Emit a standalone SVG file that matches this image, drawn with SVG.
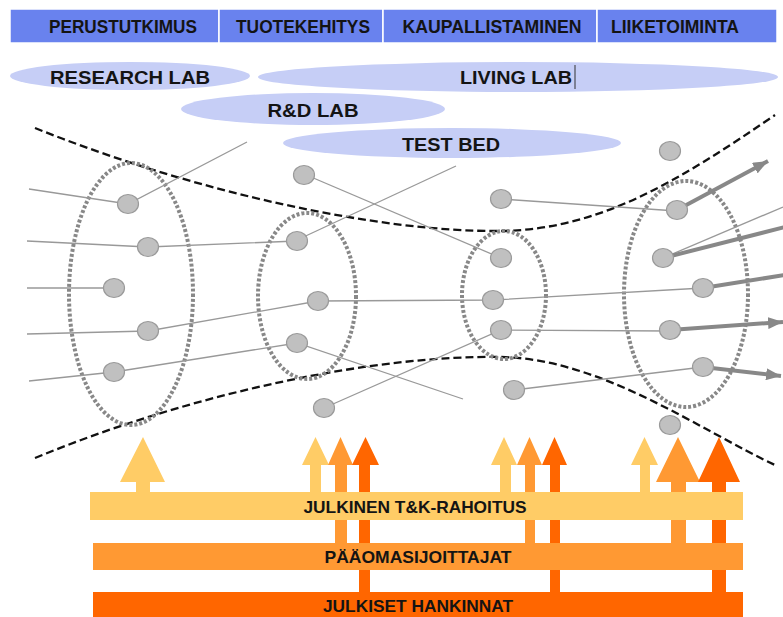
<svg xmlns="http://www.w3.org/2000/svg" width="783" height="617" viewBox="0 0 783 617">
<style>
.t{font-family:"Liberation Sans",Arial,sans-serif;font-weight:bold;fill:#141414;text-anchor:middle}
.hd{font-size:17.5px}
.lb{font-size:19px}
.bt{font-size:16.5px}
.cell{fill:#6982EE;stroke:#fff;stroke-width:1.5}
.lab{fill:#C6CEF6}
.dash{fill:none;stroke:#111;stroke-width:2.3;stroke-dasharray:8 4}
.dot{fill:none;stroke:#888;stroke-width:4;stroke-dasharray:3 2}
.thin{fill:none;stroke:#999;stroke-width:1.3}
.thick{fill:none;stroke:#888;stroke-width:4}
.node{fill:#C0C0C0;stroke:#9a9a9a;stroke-width:1.2}
.c1{fill:#FFCC66}
.c2{fill:#FF9933}
.c3{fill:#FF6600}
</style>
<defs>
<marker id="ah" markerUnits="userSpaceOnUse" markerWidth="16" markerHeight="12" refX="15" refY="6" orient="auto">
<path d="M0,0 L15,6 L0,12 Z" fill="#888"/>
</marker>
</defs>
<rect width="783" height="617" fill="#fff"/>

<g id="header">
<rect class="cell" x="10" y="9" width="209" height="34"/>
<rect class="cell" x="219" y="9" width="164" height="34"/>
<rect class="cell" x="383" y="9" width="214" height="34"/>
<rect class="cell" x="597" y="9" width="180" height="34"/>
<text class="t hd" x="123" y="33" textLength="148" lengthAdjust="spacingAndGlyphs">PERUSTUTKIMUS</text>
<text class="t hd" x="303" y="33" textLength="134" lengthAdjust="spacingAndGlyphs">TUOTEKEHITYS</text>
<text class="t hd" x="492" y="33" textLength="179" lengthAdjust="spacingAndGlyphs">KAUPALLISTAMINEN</text>
<text class="t hd" x="675" y="33" textLength="128" lengthAdjust="spacingAndGlyphs">LIIKETOIMINTA</text>
</g>

<g id="research-lab">
<ellipse class="lab" cx="130" cy="76" rx="120" ry="14"/>
<text class="t lb" x="130" y="84" textLength="160" lengthAdjust="spacingAndGlyphs">RESEARCH LAB</text>
</g>
<g id="living-lab">
<ellipse class="lab" cx="518" cy="77" rx="260" ry="15"/>
<text class="t lb" x="516" y="84" textLength="112" lengthAdjust="spacingAndGlyphs">LIVING LAB</text>
<line x1="575" y1="65" x2="575" y2="89" stroke="#333" stroke-width="1"/>
</g>
<g id="rd-lab">
<ellipse class="lab" cx="313" cy="109" rx="132" ry="16"/>
<text class="t lb" x="313" y="117" textLength="91" lengthAdjust="spacingAndGlyphs">R&amp;D LAB</text>
</g>
<g id="test-bed">
<ellipse class="lab" cx="452" cy="143" rx="169" ry="15"/>
<text class="t lb" x="451" y="151" textLength="98" lengthAdjust="spacingAndGlyphs">TEST BED</text>
</g>

<g id="funnel">
<path class="dash" d="M35,128 C200,194 380,232 500,231 C600,230 680,180 775,115"/>
<path class="dash" d="M35,458 C200,390 380,355 500,357 C600,358 700,430 775,465"/>
</g>

<g id="clusters">
<ellipse class="dot" cx="131" cy="294" rx="62" ry="131"/>
<ellipse class="dot" cx="307" cy="296" rx="49" ry="83"/>
<ellipse class="dot" cx="504" cy="295" rx="42" ry="64"/>
<ellipse class="dot" cx="686" cy="294" rx="62" ry="113"/>
</g>

<g id="connectors">
<polyline class="thin" points="29,189 128,204 247,142"/>
<polyline class="thin" points="27,241 148,247 297,241"/>
<polyline class="thin" points="27,288 114,288"/>
<polyline class="thin" points="27,334 148,331 318,301 493,300 703,288"/>
<polyline class="thin" points="29,381 114,372 297,343 463,399"/>
<polyline class="thin" points="304,174 501,258"/>
<polyline class="thin" points="297,240 456,166"/>
<polyline class="thin" points="324,408 501,330 669,331"/>
<polyline class="thin" points="501,199 677,211"/>
<polyline class="thin" points="514,390 703,367"/>
<polyline class="thin" points="663,258 783,207"/>
<line class="thick" x1="677" y1="210" x2="768" y2="161" marker-end="url(#ah)"/>
<line class="thick" x1="663" y1="258" x2="785" y2="227"/>
<line class="thick" x1="703" y1="288" x2="785" y2="275"/>
<line class="thick" x1="670" y1="330" x2="783" y2="322" marker-end="url(#ah)"/>
<line class="thick" x1="703" y1="367" x2="781" y2="376" marker-end="url(#ah)"/>
</g>

<g id="nodes">
<ellipse id="n1" class="node" cx="128" cy="204" rx="10.5" ry="9.5"/>
<ellipse id="n2" class="node" cx="148" cy="247" rx="10.5" ry="9.5"/>
<ellipse id="n3" class="node" cx="114" cy="288" rx="10.5" ry="9.5"/>
<ellipse id="n4" class="node" cx="148" cy="331" rx="10.5" ry="9.5"/>
<ellipse id="n5" class="node" cx="114" cy="372" rx="10.5" ry="9.5"/>
<ellipse id="n6" class="node" cx="304" cy="175" rx="10.5" ry="9.5"/>
<ellipse id="n7" class="node" cx="297" cy="241" rx="10.5" ry="9.5"/>
<ellipse id="n8" class="node" cx="318" cy="301" rx="10.5" ry="9.5"/>
<ellipse id="n9" class="node" cx="297" cy="343" rx="10.5" ry="9.5"/>
<ellipse id="n10" class="node" cx="324" cy="408" rx="10.5" ry="9.5"/>
<ellipse id="n11" class="node" cx="501" cy="199" rx="10.5" ry="9.5"/>
<ellipse id="n12" class="node" cx="501" cy="258" rx="10.5" ry="9.5"/>
<ellipse id="n13" class="node" cx="493" cy="300" rx="10.5" ry="9.5"/>
<ellipse id="n14" class="node" cx="501" cy="330" rx="10.5" ry="9.5"/>
<ellipse id="n15" class="node" cx="514" cy="390" rx="10.5" ry="9.5"/>
<ellipse id="n16" class="node" cx="670" cy="151" rx="10.5" ry="9.5"/>
<ellipse id="n17" class="node" cx="677" cy="210" rx="10.5" ry="9.5"/>
<ellipse id="n18" class="node" cx="663" cy="258" rx="10.5" ry="9.5"/>
<ellipse id="n19" class="node" cx="703" cy="288" rx="10.5" ry="9.5"/>
<ellipse id="n20" class="node" cx="670" cy="330" rx="10.5" ry="9.5"/>
<ellipse id="n21" class="node" cx="703" cy="367" rx="10.5" ry="9.5"/>
<ellipse id="n22" class="node" cx="670" cy="425" rx="10.5" ry="9.5"/>
</g>

<g id="funding-arrows">
<path class="c1" d="M136,492 V482 H120 L143,437 L165,482 H150 V492 Z"/>
<path class="c1" d="M310,492 V465 H302 L315.5,437 L329,465 H321 V492 Z"/>
<path class="c2" d="M335,543 V465 H328 L340.5,437 L353,465 H347 V543 Z"/>
<path class="c3" d="M359,592 V465 H352 L365.5,437 L379,465 H370 V592 Z"/>
<path class="c1" d="M500,492 V465 H491 L504,437 L517,465 H511 V492 Z"/>
<path class="c2" d="M525,543 V465 H517 L529.5,437 L542,465 H535 V543 Z"/>
<path class="c3" d="M550,592 V465 H542 L554.5,437 L567,465 H560 V592 Z"/>
<path class="c1" d="M640,492 V465 H631 L644.5,437 L658,465 H650 V492 Z"/>
<path class="c2" d="M671,543 V482 H656 L678,437 L700,482 H686 V543 Z"/>
<path class="c3" d="M712,592 V482 H698 L719,437 L740,482 H726 V592 Z"/>
</g>

<g id="bar-julkinen">
<rect class="c1" x="90" y="492" width="653" height="28"/>
<text class="t bt" x="415" y="513" textLength="223" lengthAdjust="spacingAndGlyphs">JULKINEN T&amp;K-RAHOITUS</text>
</g>
<g id="bar-paaoma">
<rect class="c2" x="93" y="543" width="650" height="27"/>
<text class="t bt" x="418" y="563" textLength="187" lengthAdjust="spacingAndGlyphs">PÄÄOMASIJOITTAJAT</text>
</g>
<g id="bar-hankinnat">
<rect class="c3" x="93" y="592" width="650" height="25"/>
<text class="t bt" x="418" y="612" textLength="190" lengthAdjust="spacingAndGlyphs">JULKISET HANKINNAT</text>
</g>
</svg>
